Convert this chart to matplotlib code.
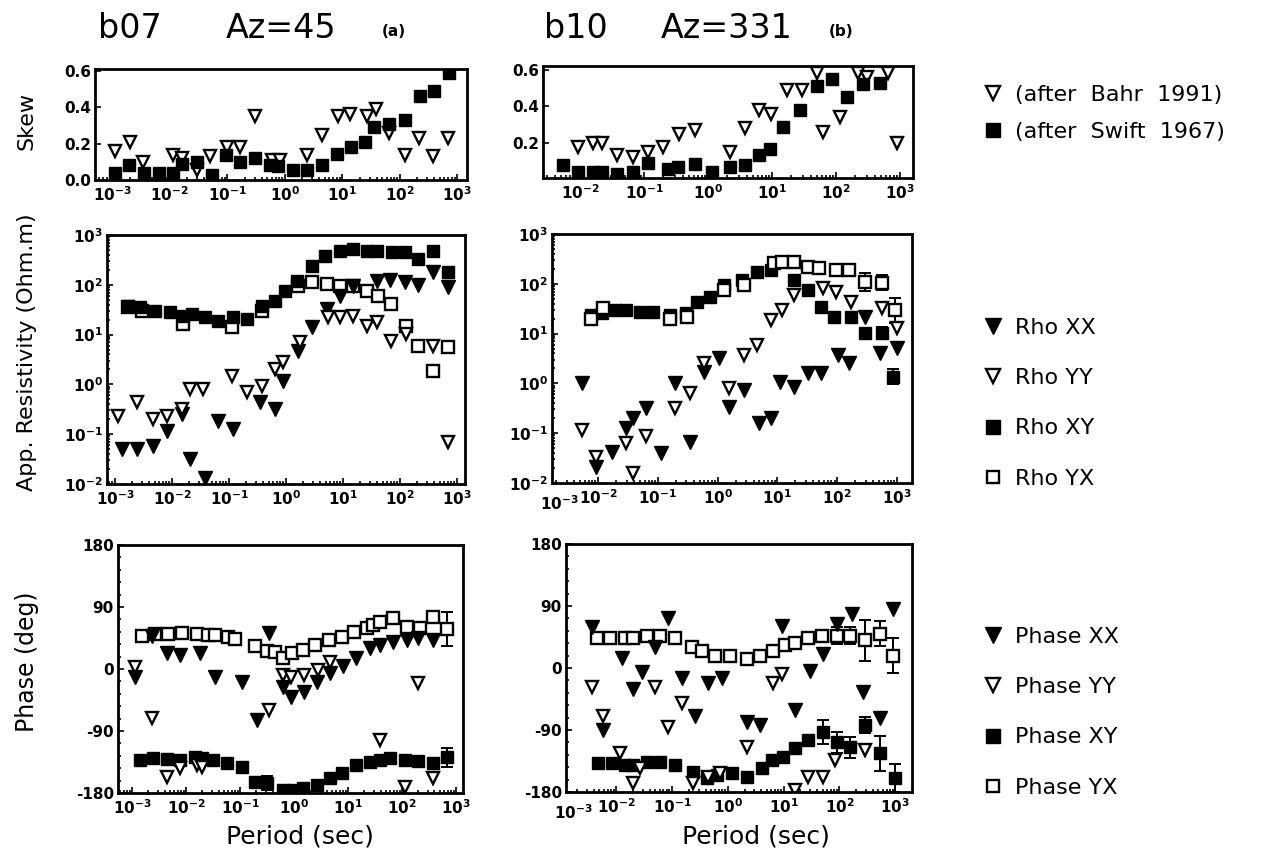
import numpy as np
import matplotlib
matplotlib.use("Agg")
import matplotlib.pyplot as plt
import matplotlib.transforms as mtrans
from matplotlib.lines import Line2D
from matplotlib.ticker import FixedLocator, FuncFormatter, NullFormatter

plt.rcParams['font.family'] = ['DejaVu Sans']
plt.rcParams['mathtext.fontset'] = 'dejavusans'
plt.rcParams['axes.unicode_minus'] = False

# ---------------- DATA (x values are log10 of period in seconds) ----------------
# Skew, station b07
skew_a_bahr_x = [-2.95, -2.69, -2.46, -1.94, -1.78, -1.52, -1.30, -1.00, -0.78, -0.51, -0.22, -0.08,
                 0.39, 0.65, 0.93, 1.14, 1.43, 1.59, 1.82, 2.10, 2.34, 2.58, 2.84]
skew_a_bahr_y = [0.157, 0.21, 0.10, 0.135, 0.12, 0.054, 0.13, 0.18, 0.18, 0.35, 0.11, 0.11,
                 0.14, 0.25, 0.35, 0.36, 0.35, 0.39, 0.26, 0.135, 0.23, 0.13, 0.23]
skew_a_swift_x = [-2.95, -2.70, -2.44, -2.18, -1.94, -1.78, -1.52, -1.26, -1.02, -0.78, -0.51, -0.25,
                  -0.11, 0.15, 0.39, 0.65, 0.91, 1.16, 1.40, 1.56, 1.82, 2.10, 2.36, 2.60, 2.86]
skew_a_swift_y = [0.038, 0.08, 0.04, 0.04, 0.04, 0.09, 0.10, 0.03, 0.135, 0.10, 0.12, 0.08,
                  0.075, 0.055, 0.055, 0.08, 0.145, 0.18, 0.21, 0.29, 0.31, 0.33, 0.46, 0.49, 0.59]
# Skew, station b10
skew_b_bahr_x = [-2.03, -1.80, -1.66, -1.42, -1.17, -0.94, -0.70, -0.45, -0.20, 0.34, 0.58, 0.80,
                 0.98, 1.23, 1.47, 1.70, 1.80, 2.06, 2.34, 2.48, 2.81, 2.95]
skew_b_bahr_y = [0.18, 0.20, 0.20, 0.135, 0.125, 0.15, 0.18, 0.25, 0.27, 0.15, 0.28, 0.38,
                 0.36, 0.49, 0.49, 0.58, 0.26, 0.34, 0.58, 0.56, 0.58, 0.20]
skew_b_swift_x = [-2.27, -2.03, -1.80, -1.66, -1.42, -1.17, -0.94, -0.62, -0.47, -0.20, 0.06, 0.34,
                  0.58, 0.80, 0.97, 1.17, 1.44, 1.70, 1.94, 2.17, 2.42, 2.69]
skew_b_swift_y = [0.08, 0.045, 0.045, 0.045, 0.03, 0.045, 0.09, 0.06, 0.07, 0.085, 0.04, 0.07,
                  0.08, 0.135, 0.17, 0.29, 0.38, 0.51, 0.55, 0.45, 0.52, 0.53]

# Apparent resistivity (log10 Ohm.m), station b07
rho_a_xy_x = [-2.77, -2.56, -2.30, -2.04, -1.81, -1.65, -1.42, -1.19, -0.93, -0.68, -0.42, -0.19, -0.02,
              0.19, 0.46, 0.68, 0.95, 1.18, 1.42, 1.60, 1.86, 2.09, 2.32, 2.58, 2.84]
rho_a_xy_y = [1.57, 1.55, 1.47, 1.45, 1.37, 1.41, 1.35, 1.27, 1.35, 1.31, 1.57, 1.67, 1.88,
              2.08, 2.38, 2.58, 2.68, 2.72, 2.68, 2.68, 2.66, 2.66, 2.52, 2.68, 2.26]
rho_a_yx_x = [-2.77, -2.53, -1.81, -0.95, -0.42, 0.21, 0.46, 0.72, 0.95, 1.18, 1.42, 1.61, 1.84,
              2.11, 2.32, 2.58, 2.84]
rho_a_yx_y = [1.55, 1.47, 1.21, 1.15, 1.47, 1.98, 2.05, 2.02, 1.98, 1.98, 1.88, 1.78, 1.62,
              1.17, 0.77, 0.27, 0.75]
rho_a_xx_x = [-2.88, -2.62, -2.33, -2.09, -1.83, -1.69, -1.42, -1.19, -0.93, -0.46, -0.19, -0.05,
              0.21, 0.46, 0.72, 0.95, 1.18, 1.60, 1.82, 2.09, 2.32, 2.58, 2.84]
rho_a_xx_y = [-1.30, -1.30, -1.24, -0.94, -0.60, -1.50, -1.88, -0.73, -0.90, -0.35, -0.49, 0.07,
              0.67, 1.15, 1.51, 1.78, 1.98, 2.08, 2.10, 2.05, 2.00, 2.26, 1.96]
rho_a_yy_x = [-2.95, -2.62, -2.33, -2.09, -1.83, -1.69, -1.46, -0.95, -0.68, -0.42, -0.19, -0.05,
              0.25, 0.74, 0.95, 1.18, 1.42, 1.60, 1.84, 2.11, 2.58, 2.84]
rho_a_yy_y = [-0.63, -0.35, -0.69, -0.63, -0.49, -0.09, -0.09, 0.17, -0.15, -0.03, 0.31, 0.45,
              0.85, 1.35, 1.35, 1.37, 1.17, 1.25, 0.87, 1.01, 0.77, -1.16]

# Apparent resistivity (log10 Ohm.m), station b10 (err in log10 units)
rho_b_xy_x = [-2.12, -1.94, -1.71, -1.54, -1.30, -1.08, -0.80, -0.53, -0.34, -0.12, 0.11, 0.41,
              0.66, 0.90, 1.27, 1.51, 1.73, 1.94, 2.23, 2.47, 2.75, 2.94]
rho_b_xy_y = [1.37, 1.41, 1.47, 1.47, 1.43, 1.43, 1.37, 1.41, 1.63, 1.73, 1.98, 2.08,
              2.24, 2.28, 2.08, 1.88, 1.53, 1.33, 1.33, 1.01, 1.01, 0.13]
rho_b_xy_e = [0, 0, 0, 0, 0, 0, 0, 0, 0, 0, 0, 0, 0, 0, 0, 0, 0, 0, 0, 0.10, 0.12, 0.15]
rho_b_yx_x = [-2.12, -1.91, -0.80, -0.51, 0.11, 0.44, 0.94, 1.07, 1.27, 1.51, 1.70, 1.98, 2.19,
              2.47, 2.75, 2.97]
rho_b_yx_y = [1.30, 1.51, 1.30, 1.33, 1.88, 1.98, 2.42, 2.44, 2.44, 2.34, 2.32, 2.28, 2.28,
              2.04, 2.02, 1.47]
rho_b_yx_e = [0, 0, 0, 0, 0, 0, 0, 0, 0, 0, 0, 0.08, 0, 0.18, 0.15, 0.25]
rho_b_xx_x = [-2.27, -2.04, -1.77, -1.54, -1.41, -1.20, -0.95, -0.72, -0.47, -0.22, 0.03, 0.19,
              0.44, 0.69, 0.90, 1.04, 1.27, 1.51, 1.73, 2.01, 2.19, 2.47, 2.72, 3.00]
rho_b_xx_y = [0.01, -1.68, -1.38, -0.90, -0.69, -0.49, -1.40, 0.01, -1.18, 0.23, 0.51, -0.47,
              -0.13, -0.80, -0.69, 0.03, -0.07, 0.21, 0.21, 0.57, 0.41, 1.33, 0.61, 0.71]
rho_b_yy_x = [-2.27, -2.04, -1.54, -1.41, -1.20, -0.72, -0.47, -0.22, 0.19, 0.44, 0.66, 0.90,
              1.07, 1.27, 1.76, 1.98, 2.23, 2.75, 3.00]
rho_b_yy_y = [-0.94, -1.48, -1.20, -1.80, -1.06, -0.49, -0.19, 0.41, -0.09, 0.57, 0.77, 1.27,
              1.47, 1.78, 1.92, 1.84, 1.63, 1.51, 1.11]

# Phase (deg), station b07
ph_a_yx_x = [-2.82, -2.57, -2.33, -2.07, -1.80, -1.59, -1.46, -1.22, -1.09, -0.72, -0.50, -0.35, -0.20,
             -0.04, 0.17, 0.39, 0.65, 0.89, 1.11, 1.35, 1.46, 1.59, 1.83, 2.09, 2.33, 2.57, 2.83]
ph_a_yx_y = [48, 51, 51, 52, 51, 49, 49, 46, 44, 33, 26, 25, 16,
             23, 28, 35, 42, 47, 54, 60, 64, 68, 74, 61, 60, 75, 58]
ph_a_yx_e = [0] * 26 + [25]
ph_a_xx_x = [-2.95, -2.63, -2.36, -2.12, -1.74, -1.46, -0.97, -0.69, -0.46, -0.20, -0.06, 0.19,
             0.43, 0.67, 0.91, 1.15, 1.41, 1.59, 1.83, 2.09, 2.30, 2.57]
ph_a_xx_y = [-12, 48, 23, 20, 23, -12, -19, -74, 52, -26, -40, -33,
             -19, -6, 4, 16, 30, 35, 39, 42, 45, 42]
ph_a_yy_x = [-2.95, -2.63, -2.36, -2.12, -1.80, -1.70, -0.46, -0.20, -0.06, 0.19, 0.44, 0.67,
             1.59, 2.05, 2.30, 2.57]
ph_a_yy_y = [3, -71, -157, -144, -139, -142, -60, -9, -12, -9, -2, 10,
             -103, -171, -20, -158]
ph_a_xy_x = [-2.85, -2.61, -2.36, -2.12, -1.84, -1.70, -1.50, -1.24, -0.96, -0.72, -0.50, -0.20, -0.02,
             0.17, 0.43, 0.67, 0.89, 1.15, 1.41, 1.59, 1.78, 2.05, 2.30, 2.57, 2.83]
ph_a_xy_y = [-132, -129, -131, -132, -128, -129, -132, -136, -142, -164, -166, -176, -176,
             -173, -168, -158, -151, -140, -135, -132, -129, -132, -134, -136, -128]
ph_a_xy_e = [0] * 10 + [10] + [0] * 13 + [14]

# Phase (deg), station b10
ph_b_yx_x = [-2.34, -2.11, -1.84, -1.70, -1.45, -1.22, -0.95, -0.64, -0.46, -0.23, 0.04, 0.34,
             0.58, 0.81, 1.02, 1.20, 1.44, 1.69, 1.96, 2.19, 2.46, 2.73, 2.96]
ph_b_yx_y = [44, 44, 44, 44, 47, 46, 44, 30, 25, 18, 17, 13,
             18, 25, 33, 37, 44, 47, 47, 47, 40, 50, 18]
ph_b_yx_e = [0] * 18 + [12, 12, 30, 18, 25]
ph_b_xx_x = [-2.43, -2.24, -1.90, -1.70, -1.54, -1.31, -1.07, -0.82, -0.59, -0.36, -0.10, 0.34,
             0.58, 0.97, 1.20, 1.47, 1.70, 1.96, 2.22, 2.42, 2.73, 2.96]
ph_b_xx_y = [59, -90, 15, -30, -6, 30, 73, -14, -69, -22, -15, -79,
             -83, 61, -61, -4, 21, 64, 79, -35, -73, 86]
ph_b_yy_x = [-2.43, -2.24, -1.93, -1.70, -1.57, -1.31, -1.07, -0.82, -0.62, -0.36, -0.14, 0.34,
             0.81, 0.97, 1.20, 1.44, 1.70, 1.92, 2.46]
ph_b_yy_y = [-28, -69, -124, -167, -145, -28, -86, -51, -167, -158, -153, -115,
             -22, -8, -177, -158, -158, -134, -119]
ph_b_xy_x = [-2.33, -2.08, -1.84, -1.70, -1.45, -1.22, -0.95, -0.62, -0.37, -0.19, 0.08, 0.34,
             0.61, 0.79, 0.99, 1.20, 1.44, 1.70, 1.96, 2.19, 2.46, 2.73, 3.00]
ph_b_xy_y = [-138, -138, -141, -141, -137, -137, -141, -151, -160, -155, -153, -158,
             -145, -134, -129, -116, -105, -93, -108, -115, -83, -124, -160]
ph_b_xy_e = [0] * 17 + [18, 15, 15, 12, 25, 20]

decade_exps = [-3, -2, -1, 0, 1, 2, 3]
skew_labels_a = [0.0, 0.2, 0.4, 0.6]
skew_labels_b = [0.2, 0.4, 0.6]
phase_ticks = [-180, -90, 0, 90, 180]

# ---------------- FIGURE ----------------
W, H = 1271, 855
fig = plt.figure(figsize=(W / 100, H / 100), dpi=100)


def box(L, T, R, B):
    return [L / W, 1 - B / H, (R - L) / W, (B - T) / H]


TICKFS = 11


def style_axis(ax, xlo, xhi, show_m3_text=False, xexps=decade_exps):
    ax.set_xscale('log')
    ax.set_xlim(10 ** xlo, 10 ** xhi)
    ax.xaxis.set_major_locator(FixedLocator([10.0 ** e for e in xexps]))
    ax.xaxis.set_major_formatter(FuncFormatter(lambda v, p: r'$\mathbf{10^{%d}}$' % int(round(np.log10(v)))))
    ax.xaxis.set_minor_locator(FixedLocator([m * 10.0 ** e for e in range(-4, 4) for m in range(2, 10)]))
    ax.xaxis.set_minor_formatter(NullFormatter())
    for s in ax.spines.values():
        s.set_linewidth(2.0)
    ax.tick_params(which='both', direction='in', labelsize=TICKFS, width=1.2, pad=3)
    ax.tick_params(axis='x', which='both', pad=4)
    ax.tick_params(which='major', length=4)
    ax.tick_params(which='minor', length=2.5)
    if show_m3_text:
        # the reference prints a 10^-3 label at the lower-left corner of these panels
        tr = mtrans.offset_copy(ax.transAxes, fig=fig, x=7, y=-11, units='dots')
        ax.text(0.0, 0.0, r'$\mathbf{10^{-3}}$', transform=tr, ha='center', va='top', fontsize=TICKFS)


MS_T = 10
MS_S = 9
MEW = 1.7


def tri_filled(ax, x, y, **kw):
    ax.plot(10.0 ** np.array(x), y, linestyle='none', marker='v', ms=MS_T, mfc='black', mec='black', **kw)


def tri_open(ax, x, y, **kw):
    ax.plot(10.0 ** np.array(x), y, linestyle='none', marker='v', ms=MS_T - 1, mfc='white', mec='black',
            mew=MEW, **kw)


def sq_filled(ax, x, y, **kw):
    ax.plot(10.0 ** np.array(x), y, linestyle='none', marker='s', ms=MS_S, mfc='black', mec='black', **kw)


def sq_open(ax, x, y, **kw):
    ax.plot(10.0 ** np.array(x), y, linestyle='none', marker='s', ms=MS_S - 1, mfc='white', mec='black',
            mew=MEW, **kw)


def ebars(ax, x, y, e, logy=False):
    x = np.array(x); y = np.array(y, dtype=float); e = np.array(e, dtype=float)
    m = e > 0
    if not m.any():
        return
    px = 10.0 ** x[m]
    if logy:
        yc = 10.0 ** y[m]
        lo = yc - 10.0 ** (y[m] - e[m]); hi = 10.0 ** (y[m] + e[m]) - yc
        ax.errorbar(px, yc, yerr=[lo, hi], fmt='none', ecolor='black', elinewidth=1.4, capsize=4, capthick=1.4)
    else:
        ax.errorbar(px, y[m], yerr=e[m], fmt='none', ecolor='black', elinewidth=1.4, capsize=4, capthick=1.4)


# ----- Skew panels -----
ax1 = fig.add_axes(box(95, 69, 467, 180))
style_axis(ax1, -3.3, 3.17)
ax1.set_ylim(0.0, 0.61)
ax1.set_yticks(skew_labels_a)
ax1.set_yticklabels(['%.1f' % v for v in skew_labels_a], fontweight='bold')
tri_open(ax1, skew_a_bahr_x, skew_a_bahr_y)
sq_filled(ax1, skew_a_swift_x, skew_a_swift_y)

ax2 = fig.add_axes(box(543, 66, 913, 178))
style_axis(ax2, -2.58, 3.2, xexps=[-2, -1, 0, 1, 2, 3])
ax2.set_ylim(0.01, 0.62)
ax2.set_yticks(skew_labels_b)
ax2.set_yticklabels(['%.1f' % v for v in skew_labels_b], fontweight='bold')
tri_open(ax2, skew_b_bahr_x, skew_b_bahr_y)
sq_filled(ax2, skew_b_swift_x, skew_b_swift_y)


# ----- Resistivity panels -----
def style_rho(ax):
    ax.set_yscale('log')
    ax.set_ylim(1e-2, 1e3)
    ax.yaxis.set_major_locator(FixedLocator([10.0 ** e for e in range(-2, 4)]))
    ax.yaxis.set_major_formatter(FuncFormatter(lambda v, p: r'$\mathbf{10^{%d}}$' % int(round(np.log10(v)))))
    ax.yaxis.set_minor_locator(FixedLocator([m * 10.0 ** e for e in range(-2, 3) for m in range(2, 10)]))
    ax.yaxis.set_minor_formatter(NullFormatter())


ax3 = fig.add_axes(box(107, 235, 465, 484))
style_axis(ax3, -3.14, 3.14)
style_rho(ax3)
sq_open(ax3, rho_a_yx_x, 10.0 ** np.array(rho_a_yx_y))
sq_filled(ax3, rho_a_xy_x, 10.0 ** np.array(rho_a_xy_y))
tri_filled(ax3, rho_a_xx_x, 10.0 ** np.array(rho_a_xx_y))
tri_open(ax3, rho_a_yy_x, 10.0 ** np.array(rho_a_yy_y))

ax4 = fig.add_axes(box(552, 234, 912, 483))
style_axis(ax4, -2.77, 3.25, show_m3_text=True)
style_rho(ax4)
ebars(ax4, rho_b_yx_x, rho_b_yx_y, rho_b_yx_e, logy=True)
ebars(ax4, rho_b_xy_x, rho_b_xy_y, rho_b_xy_e, logy=True)
sq_filled(ax4, rho_b_xy_x, 10.0 ** np.array(rho_b_xy_y))
sq_open(ax4, rho_b_yx_x, 10.0 ** np.array(rho_b_yx_y))
tri_filled(ax4, rho_b_xx_x, 10.0 ** np.array(rho_b_xx_y))
tri_open(ax4, rho_b_yy_x, 10.0 ** np.array(rho_b_yy_y))


# ----- Phase panels -----
def style_phase(ax):
    ax.set_ylim(-180, 180)
    ax.set_yticks(phase_ticks)
    ax.set_yticklabels([str(v) for v in phase_ticks], fontweight='bold')
    ax.yaxis.set_minor_locator(FixedLocator(list(range(-180, 181, 18))))


ax5 = fig.add_axes(box(118, 545, 463, 793))
style_axis(ax5, -3.26, 3.13)
style_phase(ax5)
ebars(ax5, ph_a_yx_x, ph_a_yx_y, ph_a_yx_e)
ebars(ax5, ph_a_xy_x, ph_a_xy_y, ph_a_xy_e)
sq_open(ax5, ph_a_yx_x, ph_a_yx_y)
sq_filled(ax5, ph_a_xy_x, ph_a_xy_y)
tri_filled(ax5, ph_a_xx_x, ph_a_xx_y)
tri_open(ax5, ph_a_yy_x, ph_a_yy_y)

ax6 = fig.add_axes(box(566, 544, 912, 792))
style_axis(ax6, -2.9, 3.3, show_m3_text=True)
style_phase(ax6)
ebars(ax6, ph_b_yx_x, ph_b_yx_y, ph_b_yx_e)
ebars(ax6, ph_b_xy_x, ph_b_xy_y, ph_b_xy_e)
sq_open(ax6, ph_b_yx_x, ph_b_yx_y)
sq_filled(ax6, ph_b_xy_x, ph_b_xy_y)
tri_filled(ax6, ph_b_xx_x, ph_b_xx_y)
tri_open(ax6, ph_b_yy_x, ph_b_yy_y)

for ax in (ax1, ax2, ax3, ax4, ax5, ax6):
    for lab in ax.get_yticklabels():
        lab.set_fontweight('bold')


# ----- Titles and axis labels -----
def ftext(x, y, s, **kw):
    fig.text(x / W, 1 - y / H, s, **kw)


ftext(130, 28, 'b07', fontsize=24, ha='center', va='center')
ftext(281, 28, 'Az=45', fontsize=24, ha='center', va='center')
ftext(394, 31, '(a)', fontsize=11, fontweight='bold', ha='center', va='center')
ftext(576, 28, 'b10', fontsize=24, ha='center', va='center')
ftext(727, 28, 'Az=331', fontsize=24, ha='center', va='center')
ftext(841, 31, '(b)', fontsize=11, fontweight='bold', ha='center', va='center')

ftext(27, 121, 'Skew', fontsize=16, rotation=90, ha='center', va='center')
ftext(27, 352, 'App. Resistivity (Ohm.m)', fontsize=16, rotation=90, ha='center', va='center')
ftext(27, 662, 'Phase (deg)', fontsize=17, rotation=90, ha='center', va='center')
ftext(300, 836, 'Period (sec)', fontsize=18, ha='center', va='center')
ftext(756, 836, 'Period (sec)', fontsize=18, ha='center', va='center')


# ----- Legends -----
def h_tri_f():
    return Line2D([], [], linestyle='none', marker='v', ms=MS_T + 1, mfc='black', mec='black')


def h_tri_o():
    return Line2D([], [], linestyle='none', marker='v', ms=MS_T, mfc='white', mec='black', mew=MEW)


def h_sq_f():
    return Line2D([], [], linestyle='none', marker='s', ms=MS_S + 1, mfc='black', mec='black')


def h_sq_o():
    return Line2D([], [], linestyle='none', marker='s', ms=MS_S, mfc='white', mec='black', mew=MEW)


LEGFS = 16
common = dict(loc='upper left', frameon=False, fontsize=LEGFS, handlelength=1.0, handletextpad=0.5,
              borderpad=0, borderaxespad=0)
leg1 = fig.legend([h_tri_o(), h_sq_f()], ['(after  Bahr  1991)', '(after  Swift  1967)'],
                  bbox_to_anchor=(982 / W, 1 - 85 / H), labelspacing=0.75, **common)
leg2 = fig.legend([h_tri_f(), h_tri_o(), h_sq_f(), h_sq_o()], ['Rho XX', 'Rho YY', 'Rho XY', 'Rho YX'],
                  bbox_to_anchor=(982 / W, 1 - 318 / H), labelspacing=1.36, **common)
leg3 = fig.legend([h_tri_f(), h_tri_o(), h_sq_f(), h_sq_o()],
                  ['Phase XX', 'Phase YY', 'Phase XY', 'Phase YX'],
                  bbox_to_anchor=(982 / W, 1 - 627 / H), labelspacing=1.36, **common)

fig.savefig('out.png', dpi=100)
